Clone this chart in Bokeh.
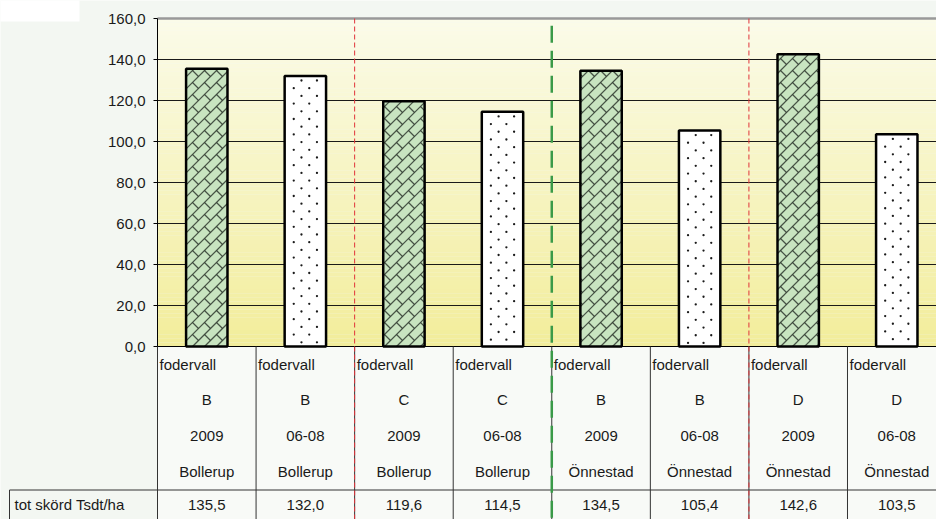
import math
from bokeh.plotting import figure
from bokeh.models import Range1d, LinearAxis, FixedTicker, CustomJSTickFormatter
from bokeh.embed import file_html
from bokeh.resources import INLINE
from bokeh.core.properties import value

# ---------------- data ----------------
row_kind = ["fodervall"] * 8
variety = ["B", "B", "C", "C", "B", "B", "D", "D"]
period = ["2009", "06-08", "2009", "06-08", "2009", "06-08", "2009", "06-08"]
place = ["Bollerup", "Bollerup", "Bollerup", "Bollerup",
         "Önnestad", "Önnestad", "Önnestad", "Önnestad"]
yield_tsdt = [135.5, 132.0, 119.6, 114.5, 134.5, 105.4, 142.6, 103.5]
row_title = "tot skörd Tsdt/ha"
y_ticks = [0, 20, 40, 60, 80, 100, 120, 140, 160]

# ---------------- geometry ----------------
W, H = 936, 519
COL = 98.57          # px per category
X0 = 157.0           # px of first category's left edge
Y0 = 346.0           # px of value 0
PPU = 2.05           # px per unit of value
BW = 0.42            # bar width (category units)
x_start, x_end = -X0 / COL, (W - X0) / COL
y_top, y_bot = Y0 / PPU, -(H - Y0) / PPU
n = len(yield_tsdt)
tab_split = -(143.5 / PPU)        # line between header cells and value row
FONT = value("Liberation Sans")

p = figure(width=W, height=H, x_range=Range1d(x_start, x_end),
           y_range=Range1d(y_bot, y_top), output_backend="svg",
           toolbar_location=None, x_axis_type=None, y_axis_type=None,
           min_border=0)
p.grid.visible = False
p.outline_line_color = None
p.background_fill_color = "#F3F7F2"
p.border_fill_color = "#F3F7F2"

# white box top-left
p.quad(left=[x_start - 1], right=[-78 / COL], top=[y_top + 5], bottom=[(Y0 - 21) / PPU],
       fill_color="white", line_color=None)

# gradient plot area
NS = 80
c_top = (251, 251, 233)
c_bot = (242, 237, 155)
ymax = y_ticks[-1]
for k in range(NS):
    t = (k + 0.5) / NS
    col = tuple(int(round(c_bot[j] + (c_top[j] - c_bot[j]) * t)) for j in range(3))
    p.quad(left=[0], right=[x_end + 1], bottom=[ymax * k / NS], top=[ymax * (k + 1) / NS],
           fill_color="#%02x%02x%02x" % col, line_color=None)

# table background
p.quad(left=[0], right=[x_end + 1], top=[0], bottom=[y_bot - 5],
       fill_color="#F8FAF7", line_color=None)

# grid lines
p.segment(x0=[0] * (len(y_ticks) - 2), x1=[x_end + 1] * (len(y_ticks) - 2),
          y0=y_ticks[1:-1], y1=y_ticks[1:-1], line_color="#1a1a1a", line_width=1)
p.segment(x0=[0], x1=[x_end + 1], y0=[ymax], y1=[ymax], line_color="#999999", line_width=2.5)

# ---------------- bars ----------------
cx = [i + 0.5 for i in range(n)]
g_idx = [i for i in range(n) if period[i] == "2009"]
w_idx = [i for i in range(n) if period[i] != "2009"]


def clip(x0, y0, x1, y1, xmin, xmax, ymin, ymax_):
    dx, dy = x1 - x0, y1 - y0
    t0, t1 = 0.0, 1.0
    for pp, q in ((-dx, x0 - xmin), (dx, xmax - x0), (-dy, y0 - ymin), (dy, ymax_ - y0)):
        if pp == 0:
            if q < 0:
                return None
            continue
        r = q / pp
        if pp < 0:
            t0 = max(t0, r)
        else:
            t1 = min(t1, r)
        if t0 > t1:
            return None
    return (x0 + t0 * dx, y0 + t0 * dy, x0 + t1 * dx, y0 + t1 * dy)


# brick texture (px space -> data)
S = 12.0
bx0, by0, bx1, by1 = [], [], [], []
for i in g_idx:
    ul = X0 + (cx[i] - BW / 2) * COL
    ur = X0 + (cx[i] + BW / 2) * COL
    vt = yield_tsdt[i] * PPU
    segs = []
    for m in range(int(math.floor((ul - vt) / S)) - 2, int(math.ceil(ur / S)) + 2):
        segs.append((ul - 5, ul - 5 - m * S, ur + 5, ur + 5 - m * S))
    for a in range(int(math.floor(ul / S)) - 2, int(math.ceil(ur / S)) + 2):
        for b in range(-int(math.ceil(vt / S)) - 2, 2):
            segs.append((a * S, -b * S, a * S + S / 2, -b * S - S / 2))
    for s in segs:
        c = clip(*s, ul, ur, 0, vt)
        if c is not None and (abs(c[2] - c[0]) + abs(c[3] - c[1])) > 0.3:
            bx0.append((c[0] - X0) / COL)
            by0.append(c[1] / PPU)
            bx1.append((c[2] - X0) / COL)
            by1.append(c[3] / PPU)

p.vbar(x=[cx[i] for i in g_idx], top=[yield_tsdt[i] for i in g_idx], bottom=0, width=BW,
       fill_color="#C8E4C0", line_color=None)
p.segment(x0=bx0, y0=by0, x1=bx1, y1=by1, line_color="#2f3a2f", line_width=1.2, line_alpha=0.85)

# dot texture
dxs, dys = [], []
for i in w_idx:
    vt = yield_tsdt[i] * PPU
    k = 0
    v = vt - 4.6
    while v > 3:
        offs = (-3.9, 11.6) if k % 2 == 0 else (-11.6, 3.9)
        for o in offs:
            dxs.append(cx[i] + o / COL)
            dys.append(v / PPU)
        k += 1
        v -= 7.7

p.vbar(x=[cx[i] for i in w_idx], top=[yield_tsdt[i] for i in w_idx], bottom=0, width=BW,
       fill_color="white", line_color=None)
p.scatter(x=dxs, y=dys, size=2.3, marker="circle", fill_color="#1a1a1a", line_color=None)

# outlines
p.vbar(x=cx, top=yield_tsdt, bottom=0, width=BW, fill_color=None,
       line_color="black", line_width=2.5)

# category axis line / table lines
p.segment(x0=[0], x1=[x_end + 1], y0=[0], y1=[0], line_color="black", line_width=1)
p.segment(x0=list(range(n)), x1=list(range(n)), y0=[0] * n, y1=[y_bot - 5] * n,
          line_color="#333333", line_width=1)
p.segment(x0=[-148 / COL], x1=[x_end + 1], y0=[tab_split], y1=[tab_split],
          line_color="#333333", line_width=1)
p.segment(x0=[-148 / COL], x1=[-148 / COL], y0=[tab_split], y1=[y_bot - 5],
          line_color="#333333", line_width=1)

# group separators
for i in range(1, n):
    if place[i] != place[i - 1]:
        p.segment(x0=[i], x1=[i], y0=[ymax - 3.5], y1=[y_bot - 5], line_color="#3A9A48",
                  line_width=2.5, line_dash="17 8")
    elif variety[i] != variety[i - 1]:
        p.segment(x0=[i], x1=[i], y0=[ymax], y1=[y_bot - 5], line_color="#E0333A",
                  line_width=1, line_dash="5 3")

# y axis
ax = LinearAxis(fixed_location=0, bounds=(0, ymax))
ax.ticker = FixedTicker(ticks=y_ticks)
ax.formatter = CustomJSTickFormatter(code="return tick.toFixed(1).replace('.', ',');")
ax.major_tick_in = 0
ax.major_tick_out = 4
ax.minor_tick_line_color = None
ax.axis_line_color = "black"
ax.major_tick_line_color = "black"
ax.major_label_standoff = 8
ax.major_label_text_font = "Liberation Sans"
ax.major_label_text_font_size = "15px"
ax.major_label_text_color = "#1a1a1a"
p.add_layout(ax, "left")

# table texts
def ty(page_y):
    return (Y0 - page_y) / PPU

tstyle = dict(text_font=FONT, text_font_size="15px", text_color="#1a1a1a",
              text_baseline="middle")
p.text(x=[i + 2 / COL for i in range(n)], y=[ty(364)] * n, text=row_kind,
       text_align="left", **tstyle)
p.text(x=cx, y=[ty(399)] * n, text=variety, text_align="center", **tstyle)
p.text(x=cx, y=[ty(435)] * n, text=period, text_align="center", **tstyle)
p.text(x=cx, y=[ty(471)] * n, text=place, text_align="center", **tstyle)
p.text(x=cx, y=[ty(504)] * n, text=[("%.1f" % v).replace(".", ",") for v in yield_tsdt],
       text_align="center", **tstyle)
p.text(x=[-143 / COL], y=[ty(504)], text=[row_title], text_align="left", **tstyle)

open("out.html", "w").write(file_html(p, INLINE))
